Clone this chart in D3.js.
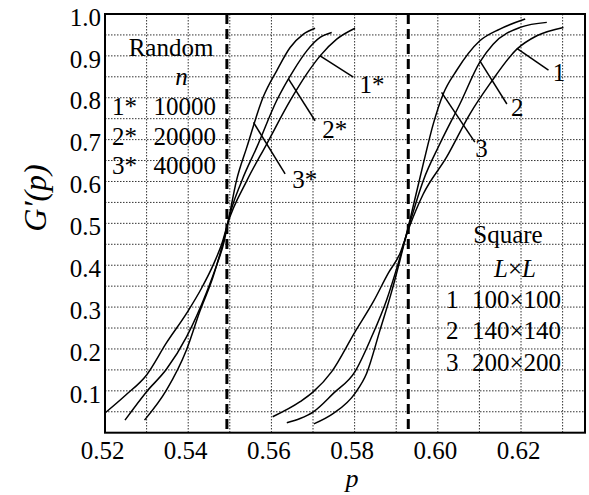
<!DOCTYPE html>
<html>
<head>
<meta charset="utf-8">
<script src="https://cdn.jsdelivr.net/npm/d3@7"></script>
</head>
<body style="margin:0; background:#fff">
<svg id="chart"></svg>
<script>
// tick labels
let xTicks = [0.52, 0.54, 0.56, 0.58, 0.60, 0.62];
let yTicks = [0.1, 0.2, 0.3, 0.4, 0.5, 0.6, 0.7, 0.8, 0.9, 1.0];

// thresholds (dashed verticals)
let thresholds = [0.5493, 0.5929];

// random lattice, n sites  [p, G'(p)]
let random1 = [[0.5200, 0.047], [0.5250, 0.090], [0.5300, 0.138], [0.5348, 0.215], [0.5396, 0.285],
  [0.5432, 0.345], [0.5462, 0.405], [0.5482, 0.455], [0.5495, 0.500], [0.5541, 0.602], [0.5589, 0.690],
  [0.5645, 0.793], [0.5685, 0.857], [0.5717, 0.900], [0.5757, 0.940], [0.5801, 0.966]];
let random2 = [[0.5248, 0.030], [0.5300, 0.098], [0.5348, 0.152], [0.5396, 0.229], [0.5444, 0.335],
  [0.5470, 0.405], [0.5486, 0.455], [0.5495, 0.500], [0.5529, 0.602], [0.5565, 0.682], [0.5613, 0.794],
  [0.5653, 0.865], [0.5685, 0.912], [0.5717, 0.944], [0.5745, 0.956]];
let random3 = [[0.5295, 0.030], [0.5348, 0.102], [0.5396, 0.198], [0.5428, 0.290], [0.5460, 0.373],
  [0.5480, 0.440], [0.5495, 0.500], [0.5516, 0.602], [0.5541, 0.682], [0.5580, 0.801], [0.5613, 0.865],
  [0.5645, 0.920], [0.5677, 0.952], [0.5705, 0.966]];

// square lattice, L x L
let square1 = [[0.5603, 0.038], [0.5669, 0.074], [0.5701, 0.098], [0.5745, 0.146], [0.5801, 0.241],
  [0.5845, 0.313], [0.5881, 0.381], [0.5909, 0.428], [0.5931, 0.490], [0.5965, 0.570], [0.6021, 0.658],
  [0.6077, 0.761], [0.6125, 0.833], [0.6190, 0.916], [0.6238, 0.948], [0.6302, 0.968]];
let square2 = [[0.5637, 0.024], [0.5669, 0.034], [0.5701, 0.050], [0.5749, 0.094], [0.5801, 0.146],
  [0.5841, 0.229], [0.5877, 0.317], [0.5905, 0.405], [0.5931, 0.495], [0.5965, 0.602], [0.6005, 0.690],
  [0.6053, 0.785], [0.6101, 0.885], [0.6133, 0.928], [0.6198, 0.968], [0.6262, 0.980]];
let square3 = [[0.5702, 0.021], [0.5749, 0.046], [0.5801, 0.094], [0.5829, 0.142], [0.5861, 0.245],
  [0.5889, 0.337], [0.5909, 0.412], [0.5931, 0.500], [0.5965, 0.642], [0.5989, 0.737], [0.6013, 0.809],
  [0.6045, 0.865], [0.6101, 0.936], [0.6149, 0.964], [0.6210, 0.988]];

let curves = [random1, random2, random3, square1, square2, square3];

// curve labels with leader lines (from point on curve -> line end -> text start)
let curveTags = ['1*', '2*', '3*', '1', '2', '3'];
let leaderFrom = [[0.5717, 0.900], [0.5641, 0.845], [0.5557, 0.741], [0.6190, 0.918], [0.6101, 0.888], [0.6009, 0.813]];
let leaderTo = [[0.5797, 0.849], [0.5705, 0.745], [0.5633, 0.618], [0.6266, 0.866], [0.6166, 0.785], [0.6089, 0.694]];
let tagAt = [[0.5812, 0.811], [0.5722, 0.704], [0.5650, 0.584], [0.6276, 0.840], [0.6176, 0.756], [0.6090, 0.658]];

// legends
let randomTags = ['1*', '2*', '3*'];
let randomN = ['10000', '20000', '40000'];
let squareTags = ['1', '2', '3'];
let squareSizes = ['100×100', '140×140', '200×200'];

let w = 589;
let h = 495;
let mLeft = 105, mRight = 585, mTop = 14, mBottom = 432.7;
let fontName = '"Liberation Serif"';

// make sure the serif face is picked up before drawing
let probe = document.createElement('canvas').getContext('2d');
['', 'italic '].forEach(s => {
    probe.font = `${s}25px ${fontName}, monospace`;
    probe.measureText('Random 0.52 G(p)');
});

let svg = d3.select('#chart')
    .attr('width', w)
    .attr('height', h);

let xScale = d3.scaleLinear()
    .domain([0.52, 0.63538])
    .range([mLeft, mRight]);

let yScale = d3.scaleLinear()
    .domain([0, 1])
    .range([mBottom, mTop]);

// dotted grid
let xGrid = d3.range(0.53, 0.635, 0.01);
let yGrid = d3.range(0.05, 0.99, 0.05);

svg.append('g')
    .selectAll('line')
    .data(xGrid)
    .enter()
    .append('line')
    .attr('x1', d => xScale(d))
    .attr('x2', d => xScale(d))
    .attr('y1', mTop)
    .attr('y2', mBottom)
    .attr('stroke', '#333')
    .attr('stroke-width', 1)
    .attr('stroke-dasharray', '1.5,1.5');

svg.append('g')
    .selectAll('line')
    .data(yGrid)
    .enter()
    .append('line')
    .attr('x1', mLeft)
    .attr('x2', mRight)
    .attr('y1', d => yScale(d))
    .attr('y2', d => yScale(d))
    .attr('stroke', '#333')
    .attr('stroke-width', 1)
    .attr('stroke-dasharray', '1.5,1.5');

// axes (labels only, frame drawn below)
let xAxis = svg.append('g')
    .attr('transform', `translate(0, ${mBottom})`)
    .call(d3.axisBottom(xScale)
        .tickValues(xTicks)
        .tickSize(0)
        .tickPadding(0)
        .tickFormat(d3.format('.2f')));
xAxis.select('.domain').remove();
xAxis.attr('font-family', null).attr('font-size', null);
xAxis.selectAll('text')
    .attr('dx', -3)
    .attr('y', 9)
    .attr('dy', '0.71em');

let yAxis = svg.append('g')
    .attr('transform', `translate(${mLeft}, 0)`)
    .call(d3.axisLeft(yScale)
        .tickValues(yTicks)
        .tickSize(0)
        .tickPadding(4)
        .tickFormat(d3.format('.1f')));
yAxis.select('.domain').remove();
yAxis.attr('font-family', null).attr('font-size', null);
yAxis.selectAll('text')
    .attr('dy', '0.45em');

// threshold dashed lines
svg.append('g')
    .selectAll('line')
    .data(thresholds)
    .enter()
    .append('line')
    .attr('x1', d => xScale(d))
    .attr('x2', d => xScale(d))
    .attr('y1', mTop)
    .attr('y2', mBottom)
    .attr('stroke', '#000')
    .attr('stroke-width', 3)
    .attr('stroke-dasharray', '10,5');

// curves
let line = d3.line()
    .x(d => xScale(d[0]))
    .y(d => yScale(d[1]))
    .curve(d3.curveMonotoneX);

svg.append('g')
    .selectAll('path')
    .data(curves)
    .enter()
    .append('path')
    .attr('d', line)
    .attr('fill', 'none')
    .attr('stroke', '#000')
    .attr('stroke-width', 1.5);

// leader lines + tags
svg.append('g')
    .selectAll('line')
    .data(curveTags)
    .enter()
    .append('line')
    .attr('x1', (d, i) => xScale(leaderFrom[i][0]))
    .attr('y1', (d, i) => yScale(leaderFrom[i][1]))
    .attr('x2', (d, i) => xScale(leaderTo[i][0]))
    .attr('y2', (d, i) => yScale(leaderTo[i][1]))
    .attr('stroke', '#000')
    .attr('stroke-width', 1.5);

svg.append('g')
    .selectAll('text')
    .data(curveTags)
    .enter()
    .append('text')
    .attr('x', (d, i) => xScale(tagAt[i][0]))
    .attr('y', (d, i) => yScale(tagAt[i][1]))
    .text(d => d);

// random legend
svg.append('text')
    .attr('x', 171)
    .attr('y', 56)
    .attr('text-anchor', 'middle')
    .text('Random');
svg.append('text')
    .attr('x', 181.5)
    .attr('y', 85)
    .attr('text-anchor', 'middle')
    .attr('font-style', 'italic')
    .text('n');
randomTags.forEach((t, i) => {
    let yy = 115 + i * 29.5;
    svg.append('text').attr('x', 112).attr('y', yy).text(t);
    svg.append('text').attr('x', 216).attr('y', yy).attr('text-anchor', 'end').text(randomN[i]);
});

// square legend
svg.append('text')
    .attr('x', 508)
    .attr('y', 243)
    .attr('text-anchor', 'middle')
    .text('Square');
let lxl = svg.append('text')
    .attr('x', 515)
    .attr('y', 276.5)
    .attr('text-anchor', 'middle');
lxl.append('tspan').attr('font-style', 'italic').text('L');
lxl.append('tspan').text('×');
lxl.append('tspan').attr('font-style', 'italic').text('L');
squareTags.forEach((t, i) => {
    let yy = 307.5 + i * 31.5;
    svg.append('text').attr('x', 446).attr('y', yy).text(t);
    svg.append('text').attr('x', 561).attr('y', yy).attr('text-anchor', 'end').text(squareSizes[i]);
});

// frame
svg.append('rect')
    .attr('x', mLeft)
    .attr('y', mTop)
    .attr('width', mRight - mLeft)
    .attr('height', mBottom - mTop)
    .attr('fill', 'none')
    .attr('stroke', '#000')
    .attr('stroke-width', 2);

// axis titles
svg.append('text')
    .attr('class', 'title')
    .attr('x', 352)
    .attr('y', 487)
    .attr('text-anchor', 'middle')
    .attr('font-style', 'italic')
    .text('p');

svg.append('text')
    .attr('class', 'title big')
    .attr('transform', 'translate(46, 198) rotate(-90)')
    .attr('text-anchor', 'middle')
    .attr('font-style', 'italic')
    .text('G′(p)');

// serif font on every text
svg.selectAll('text')
    .style('font-family', fontName)
    .attr('font-size', 25)
    .attr('fill', '#000');
svg.selectAll('text.title').attr('font-size', 26);
svg.selectAll('text.big').attr('font-size', 32);
</script>
</body>
</html>
